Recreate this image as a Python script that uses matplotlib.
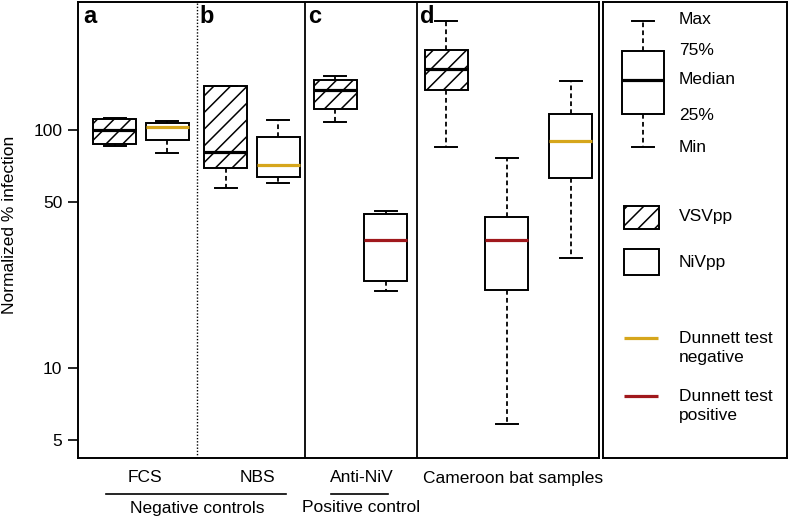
import matplotlib
matplotlib.use("Agg")
import matplotlib.pyplot as plt
from matplotlib.patches import Rectangle
from matplotlib.lines import Line2D
from matplotlib.ticker import NullLocator

# ---------------- data ----------------
groups = ["FCS", "NBS", "Anti-NiV", "Cameroon bat samples"]
panel_letters = ["a", "b", "c", "d"]

box_pseudotype = ["VSVpp", "NiVpp", "VSVpp", "NiVpp", "VSVpp", "NiVpp",
                  "VSVpp", "NiVpp", "NiVpp"]
box_dunnett = [None, "negative", None, "negative", None, "positive",
               None, "positive", "negative"]
box_min = [85.6, 80.3, 56.9, 59.7, 108.4, 21.1, 85.1, 5.8, 28.9]
box_q1 = [87.3, 90.8, 69.4, 63.6, 122.5, 23.2, 147.0, 21.2, 62.7]
box_med = [100.0, 103.0, 80.8, 71.5, 147.0, 34.4, 180.0, 34.4, 89.6]
box_q3 = [111.0, 107.0, 153.0, 93.7, 162.0, 44.5, 217.0, 43.1, 116.7]
box_max = [112.0, 109.4, 153.0, 110.0, 168.7, 45.8, 288.0, 76.5, 161.0]

y_ticks = [5, 10, 50, 100]
y_tick_labels = ["5", "10", "50", "100"]

# ---------------- layout / style ----------------
W, H = 788, 519
FS = 12.5
YELLOW = "#D6A61C"
RED = "#A0181C"
positions = [114.5, 167, 225.5, 278, 335, 385.5, 446, 506.5, 570.5]
separators = [(197, "dotted"), (305, "solid"), (417, "solid")]
letter_x = [83, 199, 308, 420]

plt.rcParams["font.family"] = ["Liberation Sans", "DejaVu Sans"]
plt.rcParams["hatch.linewidth"] = 1.1
plt.rcParams["hatch.color"] = "black"

fig = plt.figure(figsize=(W / 100, H / 100), dpi=100)


def fx(px):
    return px / W


def fy(py):
    return 1 - py / H


ax = fig.add_axes([fx(77.5), fy(458), fx(599) - fx(77.5), fy(2) - fy(458)])
ax.set_yscale("log")

stats = [dict(med=m, q1=a, q3=b, whislo=lo, whishi=hi, fliers=[])
         for lo, a, m, b, hi in zip(box_min, box_q1, box_med, box_q3, box_max)]

box_kw = dict(patch_artist=True, showfliers=False, manage_ticks=False,
              boxprops=dict(facecolor="white", edgecolor="black", linewidth=1.4),
              whiskerprops=dict(color="black", linewidth=1.3, linestyle=(0, (2.6, 1.8))),
              capprops=dict(color="black", linewidth=1.4),
              medianprops=dict(color="black", linewidth=2.3, solid_capstyle="butt"))

bp = ax.bxp(stats, positions=positions, widths=43, capwidths=22, **box_kw)
for patch, pt in zip(bp["boxes"], box_pseudotype):
    if pt == "VSVpp":
        patch.set_hatch("//")
for med, res in zip(bp["medians"], box_dunnett):
    if res == "negative":
        med.set_color(YELLOW)
    elif res == "positive":
        med.set_color(RED)

for x, style in separators:
    if style == "dotted":
        ax.axvline(x, color="black", lw=1.0, ls=(0, (1, 1.3)))
    else:
        ax.axvline(x, color="black", lw=1.3)

ax.set_xlim(77.5, 599)
ax.set_ylim(4.19, 345)
ax.set_xticks([])
ax.set_yticks(y_ticks)
ax.set_yticklabels(y_tick_labels)
ax.yaxis.set_minor_locator(NullLocator())
ax.tick_params(axis="y", length=7, width=1.2, pad=4, labelsize=FS)
for s in ax.spines.values():
    s.set_linewidth(1.4)

for lx, letter in zip(letter_x, panel_letters):
    fig.text(fx(lx), fy(23), letter, fontsize=17, fontweight="bold", va="baseline")

fig.text(fx(10), fy(225), "Normalized % infection", rotation=90,
         ha="center", va="center", fontsize=FS)

# bottom labels
label_x = [145, 257, 362, 513]
for x, g in zip(label_x, groups):
    fig.text(fx(x), fy(478), g, ha="center", va="center", fontsize=FS)
fig.add_artist(Line2D([fx(106), fx(286)], [fy(494)] * 2, transform=fig.transFigure,
                      color="black", lw=1.2))
fig.add_artist(Line2D([fx(331), fx(388)], [fy(494)] * 2, transform=fig.transFigure,
                      color="black", lw=1.2))
fig.text(fx(197), fy(508), "Negative controls", ha="center", va="center", fontsize=FS)
fig.text(fx(361), fy(508), "Positive control", ha="center", va="center", fontsize=FS)

# ---------------- legend panel ----------------
lax = fig.add_axes([fx(602.5), fy(458), fx(787) - fx(602.5), fy(2) - fy(458)])

lax.bxp([dict(med=80, q1=114, q3=51, whislo=147, whishi=21, fliers=[])],
        positions=[643], widths=42, capwidths=22, **box_kw)
for txt, y in [("Max", 19), ("75%", 50), ("Median", 79), ("25%", 115), ("Min", 147)]:
    lax.text(679, y, txt, va="center", ha="left", fontsize=FS)

lax.add_patch(Rectangle((624, 206), 35, 23, facecolor="white", edgecolor="black",
                        lw=1.4, hatch="//"))
lax.text(679, 216, "VSVpp", va="center", ha="left", fontsize=FS)
lax.add_patch(Rectangle((624, 249), 35, 26, facecolor="white", edgecolor="black", lw=1.4))
lax.text(679, 262, "NiVpp", va="center", ha="left", fontsize=FS)

lax.plot([624, 658], [338, 338], color=YELLOW, lw=2.3, solid_capstyle="butt")
lax.text(679, 348, "Dunnett test\nnegative", va="center", ha="left", fontsize=FS,
         linespacing=1.35)
lax.plot([624, 658], [396, 396], color=RED, lw=2.3, solid_capstyle="butt")
lax.text(679, 406, "Dunnett test\npositive", va="center", ha="left", fontsize=FS,
         linespacing=1.35)

lax.set_xlim(602.5, 787)
lax.set_ylim(458, 2)
lax.set_xticks([])
lax.set_yticks([])
for s in lax.spines.values():
    s.set_linewidth(1.4)

fig.savefig("out.png", dpi=100)
